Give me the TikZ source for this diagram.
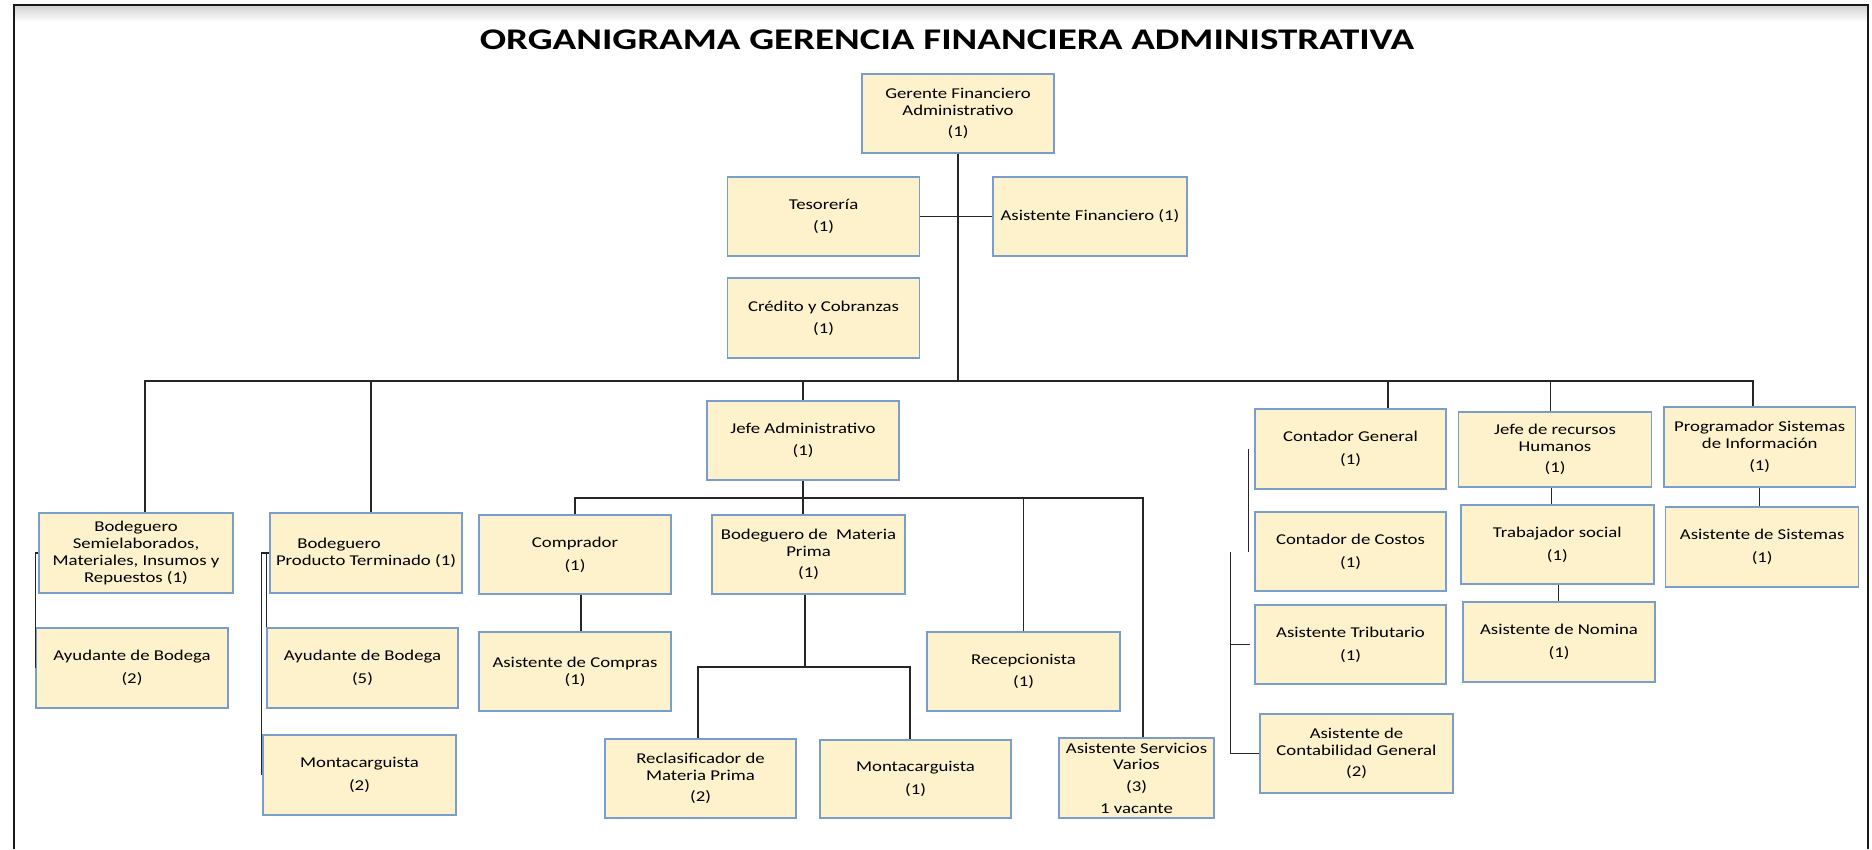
\documentclass[tikz,border=0pt]{standalone}
\usepackage{fontspec}
\setmainfont{Carlito}
\newfontfamily\cajafont[FakeStretch=1.25]{Carlito}
\newfontfamily\titulofont[FakeStretch=1.3]{Carlito}
\definecolor{crema}{RGB}{253,242,204}
\definecolor{bordeazul}{RGB}{122,158,204}

\tikzset{
  cargo/.style={rectangle, draw=bordeazul, fill=crema, line width=1.5pt,
    minimum width=192pt, minimum height=79pt, align=center, inner sep=1pt,
    font={\cajafont\fontsize{15}{16.7}\selectfont}},
  linea/.style={line width=1.5pt, black!85}
}

\begin{document}
\begin{tikzpicture}[x=1pt, y=-1pt]
      \useasboundingbox (0,0) rectangle (1872,849);
      \fill[white] (0,0) rectangle (1872,849);

      % marco
      \shade[top color=black!18, bottom color=white] (14,5) rectangle (1868,22);
      \draw[line width=2pt, black!90] (14,849) -- (14,5) -- (1868,5) -- (1868,849);

      \node[font={\titulofont\bfseries\fontsize{30}{32}\selectfont}] (titulo) at (947,40) {ORGANIGRAMA GERENCIA FINANCIERA ADMINISTRATIVA};

      % gerencia
      \node[cargo] (gerente) at (958,113.5) {Gerente Financiero\\Administrativo\\[5pt](1)};
      \node[cargo] (tesoreria) at (823.5,216.5) {Tesorería\\[6pt](1)};
      \node[cargo, minimum width=194pt] (asisfin) at (1090,216.5) {Asistente Financiero (1)};
      \node[cargo, minimum height=80pt] (credito) at (823.5,318) {Crédito y Cobranzas\\[5pt](1)};

      % bodegas
      \node[cargo, minimum width=194pt, minimum height=80pt] (bodsemi) at (136,553) {Bodeguero\\Semielaborados,\\Materiales, Insumos y\\Repuestos (1)};
      \node[cargo, minimum height=80pt] (bodpt) at (366,553) {Bodeguero\hspace*{3.6em}\\Producto Terminado (1)};
      \node[cargo, minimum height=80pt] (ayudante2) at (132,668) {Ayudante de Bodega\\[6pt](2)};
      \node[cargo, minimum width=191pt, minimum height=80pt] (ayudante5) at (362.5,668) {Ayudante de Bodega\\[6pt](5)};
      \node[cargo, minimum width=193pt, minimum height=80pt] (montacar2) at (359.5,775) {Montacarguista\\[6pt](2)};

      % jefatura administrativa
      \node[cargo] (jefeadm) at (803,440.5) {Jefe Administrativo\\[5pt](1)};
      \node[cargo] (comprador) at (575,554.5) {Comprador\\[6pt](1)};
      \node[cargo, minimum width=193pt] (bodmp) at (808.5,554.5) {Bodeguero de\ \ Materia\\Prima\\[5pt](1)};
      \node[cargo] (asiscompras) at (575,671.5) {Asistente de Compras\\(1)};
      \node[cargo, minimum width=191pt] (reclasif) at (700.5,778.5) {Reclasificador de\\Materia Prima\\[5pt](2)};
      \node[cargo, minimum width=191pt, minimum height=78pt] (montacar1) at (915.5,779) {Montacarguista\\[6pt](1)};
      \node[cargo, minimum width=193pt] (recepcion) at (1023.5,671.5) {Recepcionista\\[6pt](1)};
      \node[cargo, minimum width=155pt, minimum height=80pt] (servicios) at (1136.5,778) {Asistente Servicios\\Varios\\[5pt](3)\\[5pt]1 vacante};

      % contabilidad
      \node[cargo, minimum width=191pt, minimum height=80pt] (contgen) at (1350.5,449) {Contador General\\[6pt](1)};
      \node[cargo, minimum width=191pt] (contcostos) at (1350.5,551.5) {Contador de Costos\\[6pt](1)};
      \node[cargo, minimum width=191pt] (tributario) at (1350.5,644.5) {Asistente Tributario\\[6pt](1)};
      \node[cargo, minimum width=193pt] (asiscont) at (1356.5,753.5) {Asistente de\\Contabilidad General\\[5pt](2)};

      % recursos humanos y sistemas
      \node[cargo, minimum width=193pt, minimum height=75pt] (jeferh) at (1555,449.5) {Jefe de recursos\\Humanos\\[5pt](1)};
      \node[cargo, minimum width=193pt] (trabsocial) at (1557.3,544.5) {Trabajador social\\[6pt](1)};
      \node[cargo, minimum height=80pt] (nomina) at (1559,642) {Asistente de Nomina\\[6pt](1)};
      \node[cargo, minimum width=191.5pt, minimum height=80pt] (programador) at (1759.7,447) {Programador Sistemas\\de Información\\[5pt](1)};
      \node[cargo, minimum width=193pt, minimum height=80pt] (asissist) at (1762.2,547) {Asistente de Sistemas\\[6pt](1)};

      % barras
      \coordinate (busder) at (1753,381);
      \coordinate (subbus) at (1143,498);
      \coordinate (barramp) at (910,667);

      \draw[linea] (gerente.south) -- (gerente.south |- busder);
      \draw[linea] (tesoreria.east) -- (asisfin.west);
      \draw[linea] ([xshift=9pt]bodsemi.north) |- (busder) -- ([xshift=-6.7pt]programador.north);
      \draw[linea] ([xshift=5pt]bodpt.north) -- ([xshift=5pt]bodpt.north |- busder);
      \draw[linea] (jefeadm.north) -- (jefeadm.north |- busder);
      \draw[linea] ([xshift=37.5pt]contgen.north) -- ([xshift=37.5pt]contgen.north |- busder);
      \draw[linea] ([xshift=-4.6pt]jeferh.north) -- ([xshift=-4.6pt]jeferh.north |- busder);

      \draw[linea] (bodsemi.west) -| (ayudante2.west);
      \draw[linea] (bodpt.west) -| ([xshift=-1pt]montacar2.west);
      \draw[linea] (bodpt.west) -| (ayudante5.north west);

      \draw[linea] (jefeadm.south) -- (jefeadm.south |- bodmp.north);
      \draw[linea] (comprador.north) |- (subbus) -- ([xshift=6.5pt]servicios.north);
      \draw[linea] (recepcion.north) -- (recepcion.north |- subbus);
      \draw[linea] ([xshift=6pt]comprador.south) -- ([xshift=6pt]asiscompras.north);
      \draw[linea] ([xshift=-3.5pt]bodmp.south) -- ([xshift=-3.5pt]bodmp.south |- barramp);
      \draw[linea] ([xshift=-2.5pt]reclasif.north) |- (barramp) -- ([xshift=-5.5pt]montacar1.north);

      \draw[linea] ([xshift=-6pt]contgen.west) -- ([xshift=-6pt]contcostos.west);
      \draw[linea] ([xshift=-24pt]contcostos.west) |- (asiscont.west);
      \draw[linea] ([xshift=-24pt]contcostos.west |- tributario.west) -- ([xshift=-4pt]tributario.west);

      \draw[linea] ([xshift=-3.5pt]jeferh.south) -- ([xshift=-3.5pt]jeferh.south |- trabsocial.north);
      \draw[linea] ([xshift=1pt]trabsocial.south) -- ([xshift=1pt]trabsocial.south |- nomina.north);
      \draw[linea] (programador.south) -- (programador.south |- asissist.north);
    \end{tikzpicture}
\end{document}
